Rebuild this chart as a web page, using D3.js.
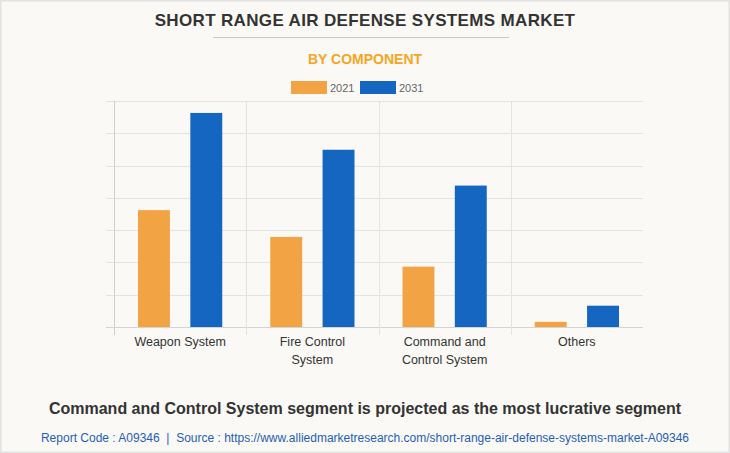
<!DOCTYPE html>
<html>
<head>
<meta charset="utf-8">
<script src="https://cdn.jsdelivr.net/npm/d3@7/dist/d3.min.js"></script>
<style>
html,body{margin:0;padding:0;background:#faf9f5;}
svg{display:block;font-family:"Liberation Sans",Arial,sans-serif;}
</style>
</head>
<body>
<svg id="chart" width="730" height="453"></svg>
<script>
const categories = [["Weapon System"], ["Fire Control", "System"], ["Command and", "Control System"], ["Others"]];
const seriesNames = ["2021", "2031"];
const values2021 = [3.62, 2.79, 1.87, 0.16];
const values2031 = [6.63, 5.49, 4.38, 0.66];
const colors = ["#f2a444", "#1466c0"];
const yTicks = [0, 1, 2, 3, 4, 5, 6, 7];

const svg = d3.select("#chart");
const W = 730, H = 453;
svg.append("rect").attr("x", 0.5).attr("y", 0.5).attr("width", W - 1).attr("height", H - 1)
  .attr("fill", "#faf9f5").attr("stroke", "#e2e2e2").attr("stroke-width", 2);

svg.append("text").attr("x", 365).attr("y", 26).attr("text-anchor", "middle")
  .attr("font-size", 17).attr("font-weight", "bold").attr("fill", "#333")
  .attr("letter-spacing", "0.35px").text("SHORT RANGE AIR DEFENSE SYSTEMS MARKET");
svg.append("line").attr("x1", 213).attr("x2", 509).attr("y1", 37.5).attr("y2", 37.5)
  .attr("stroke", "#c8c8c8").attr("stroke-width", 1);
svg.append("text").attr("x", 365).attr("y", 64).attr("text-anchor", "middle")
  .attr("font-size", 14).attr("font-weight", "bold").attr("fill", "#f5a623")
  .text("BY COMPONENT");

// legend
const leg = [{x: 291, tx: 330}, {x: 360, tx: 399}];
seriesNames.forEach((s, i) => {
  svg.append("rect").attr("x", leg[i].x).attr("y", 81).attr("width", 36).attr("height", 13)
    .attr("fill", colors[i]);
  svg.append("text").attr("x", leg[i].tx).attr("y", 91.5).attr("font-size", 11)
    .attr("fill", "#666").text(s);
});

const m = {left: 114, right: 643, top: 101, bottom: 327};
const x0 = d3.scaleBand().domain(d3.range(categories.length)).range([m.left, m.right]).paddingInner(0).paddingOuter(0);
const x1 = d3.scaleBand().domain(seriesNames).range([24, x0.bandwidth() - 24]).paddingInner(0.39);
const y = d3.scaleLinear().domain([0, 7]).range([m.bottom, m.top]);

const g = svg.append("g");
g.selectAll(".hg").data(yTicks).join("line")
  .attr("x1", m.left - 8).attr("x2", m.right)
  .attr("y1", d => Math.round(y(d)) + 0.5).attr("y2", d => Math.round(y(d)) + 0.5)
  .attr("stroke", d => d === 0 ? "#d4d4d4" : "#e4e3df").attr("stroke-width", 1);
const seps = d3.range(1, categories.length).map(i => x0(i));
g.selectAll(".vg").data(seps).join("line")
  .attr("x1", d => Math.round(d) + 0.5).attr("x2", d => Math.round(d) + 0.5)
  .attr("y1", m.top).attr("y2", m.bottom + 8)
  .attr("stroke", "#e4e3df");
g.append("line").attr("x1", m.left + 0.5).attr("x2", m.left + 0.5).attr("y1", m.top).attr("y2", m.bottom + 8)
  .attr("stroke", "#cfcfcf");

const data = categories.map((c, i) => [values2021[i], values2031[i]]);
const grp = g.selectAll(".grp").data(data).join("g").attr("transform", (d, i) => `translate(${x0(i)},0)`);
grp.selectAll("rect").data(d => d.map((v, j) => ({v, j}))).join("rect")
  .attr("x", d => x1(seriesNames[d.j])).attr("width", x1.bandwidth())
  .attr("y", d => y(d.v)).attr("height", d => y(0) - y(d.v))
  .attr("fill", d => colors[d.j]);

categories.forEach((lines, i) => {
  const t = svg.append("text").attr("x", x0(i) + x0.bandwidth() / 2).attr("y", 346)
    .attr("text-anchor", "middle").attr("font-size", 12.5).attr("fill", "#333");
  lines.forEach((l, k) => t.append("tspan").attr("x", x0(i) + x0.bandwidth() / 2).attr("dy", k === 0 ? 0 : 18).text(l));
});

svg.append("text").attr("x", 365).attr("y", 414).attr("text-anchor", "middle")
  .attr("font-size", 16).attr("font-weight", "bold").attr("fill", "#333")
  .text("Command and Control System segment is projected as the most lucrative segment");
svg.append("text").attr("x", 365).attr("y", 441.5).attr("text-anchor", "middle")
  .attr("font-size", 12).attr("fill", "#1f5fb4").style("white-space", "pre")
  .text("Report Code : A09346  |  Source : https://www.alliedmarketresearch.com/short-range-air-defense-systems-market-A09346");
</script>
</body>
</html>
